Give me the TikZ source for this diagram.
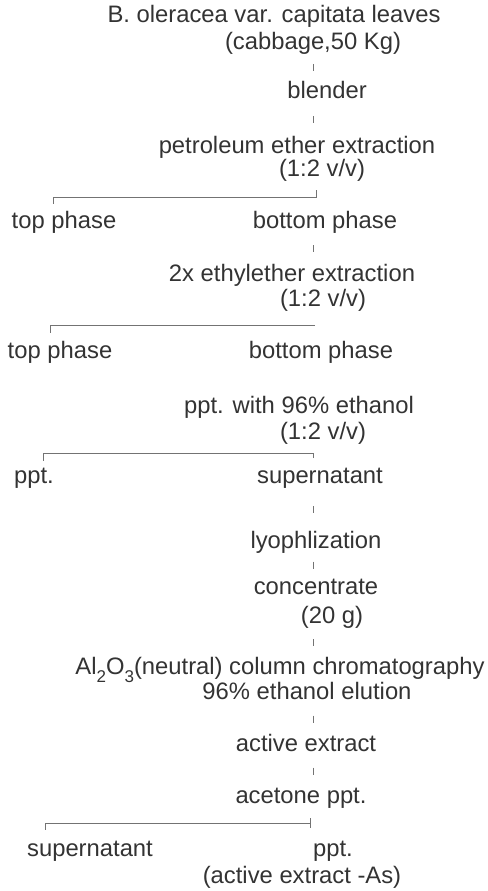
\documentclass[tikz,border=0pt]{standalone}
\usepackage{fontspec}
\setmainfont{Liberation Sans}
\usepackage{tikz}
\usetikzlibrary{calc,decorations.markings}
\newcommand\lowsub[1]{\raisebox{-8pt}{\fontsize{17}{17}\selectfont #1}}
\tikzset{
  stage/.style={inner sep=0pt, text height=17pt, text depth=5pt,
    text=black!80, font=\fontsize{23.8}{28}\selectfont},
  link/.style={draw=black!55, line width=0.8pt},
  tick/.style={postaction={decorate},
    decoration={markings, mark=at position .5 with {\draw[link] (-3.5pt,0pt) -- (3.5pt,0pt);}}},
}

\begin{document}
\begin{tikzpicture}[x=1pt, y=-1pt]
  \useasboundingbox (0,0) rectangle (487,891);
  \coordinate (col) at (313,0);

  \node[stage] (leaves) at (274,17) {B. oleracea var. capitata leaves};
  \node[stage] (cabbage) at (313,43) {(cabbage,50 Kg)};
  \node[stage] (blender) at (327,92) {blender};
  \node[stage] (petext) at (297,147) {petroleum ether extraction};
  \node[stage] (ratioA) at (322,170) {(1:2 v/v)};
  \node[stage] (topA) at (64,222) {top phase};
  \node[stage] (botA) at (325,222) {bottom phase};
  \node[stage] (etext) at (292,275) {2x ethylether extraction};
  \node[stage] (ratioB) at (323,300) {(1:2 v/v)};
  \node[stage] (topB) at (60,352) {top phase};
  \node[stage] (botB) at (321,352) {bottom phase};
  \node[stage] (ethppt) at (299,407) {ppt. with 96\% ethanol};
  \node[stage] (ratioC) at (323,433) {(1:2 v/v)};
  \node[stage] (pptC) at (34,477) {ppt.};
  \node[stage] (supC) at (320,477) {supernatant};
  \node[stage] (lyo) at (316,542) {lyophlization};
  \node[stage] (conc) at (316,588) {concentrate};
  \node[stage] (mass) at (332,617) {(20 g)};
  \node[stage] (column) at (280,668) {Al\lowsub{2}O\lowsub{3}(neutral) column chromatography};
  \node[stage] (elution) at (307,693) {96\% ethanol elution};
  \node[stage] (active) at (306,745) {active extract};
  \node[stage] (acetone) at (301,797) {acetone ppt.};
  \node[stage] (supD) at (90,850) {supernatant};
  \node[stage] (pptD) at (333,850) {ppt.};
  \node[stage] (asD) at (302,877) {(active extract -As)};

  \path[tick] (cabbage.south -| col) -- (blender.north -| col);
  \path[tick] (blender.south -| col) -- (petext.north -| col);
  \path[tick] (botA.south -| col) -- (etext.north -| col);
  \path[tick] (supC.south -| col) -- (lyo.north -| col);
  \path[tick] (lyo.south -| col) -- (conc.north -| col);
  \path[tick] (mass.south -| col) -- (column.north -| col);
  \path[tick] (elution.south -| col) -- (active.north -| col);
  \path[tick] (active.south -| col) -- (acetone.north -| col);

  \coordinate (splitA) at (316,197);
  \coordinate (splitAl) at (53,197);
  \draw[link] (splitA) ++(0,-7) -- (splitA) -- (splitAl) -- ++(0,7);
  \coordinate (splitB) at (315,325);
  \coordinate (splitBl) at (50,325);
  \draw[link] (splitB) -- (splitBl) -- ++(0,8);
  \coordinate (splitC) at (313,453);
  \coordinate (splitCl) at (43,453);
  \draw[link] (splitC) ++(0,5) -- (splitC) -- (splitCl) -- ++(0,8);
  \coordinate (splitD) at (310,823);
  \coordinate (splitDl) at (45,823);
  \draw[link] (splitD) ++(0,-5) -- ++(0,10);
  \draw[link] (splitD) -- (splitDl) -- ++(0,7);
\end{tikzpicture}
\end{document}
